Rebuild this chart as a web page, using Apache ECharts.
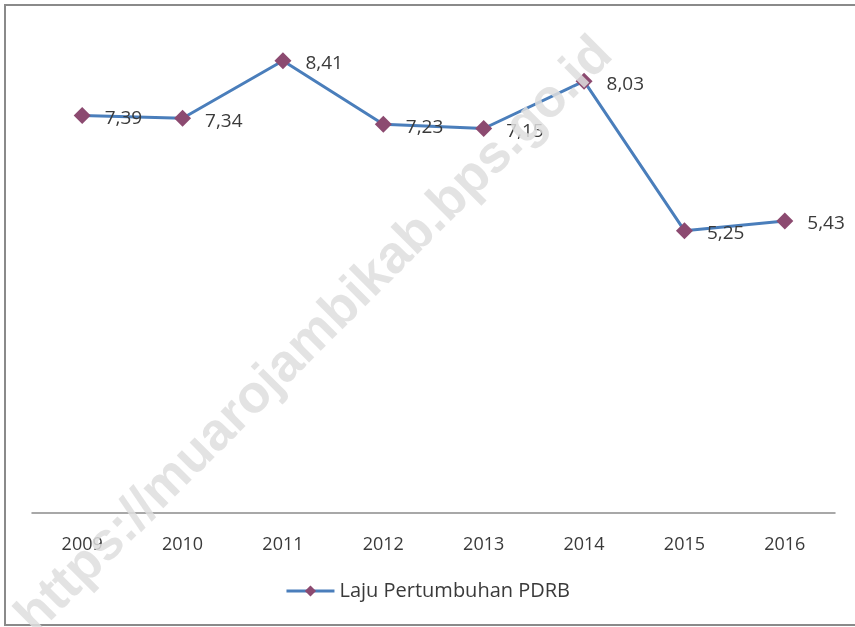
<!DOCTYPE html>
<html>
<head>
<meta charset="utf-8">
<script src="https://cdn.jsdelivr.net/npm/echarts@6/dist/echarts.min.js"></script>
<style>
  html, body { margin: 0; padding: 0; background: #fff; }
  #main { width: 855px; height: 627px; }
</style>
</head>
<body>
<div id="main"></div>
<script>
var years = ['2009', '2010', '2011', '2012', '2013', '2014', '2015', '2016'];
var laju = [7.39, 7.34, 8.41, 7.23, 7.15, 8.03, 5.25, 5.43];
var seriesName = 'Laju Pertumbuhan PDRB';
var watermark = 'https://muarojambikab.bps.go.id';

var chart = echarts.init(document.getElementById('main'));

var option = {
  backgroundColor: '#fff',
  animation: false,
  textStyle: { fontFamily: 'Open Sans, sans-serif' },
  grid: { left: 32, right: 20, top: 29, bottom: 114 },
  xAxis: {
    type: 'category',
    data: years,
    boundaryGap: true,
    axisLine: { lineStyle: { color: '#8c8c8c', width: 1.5 } },
    axisTick: { show: false },
    axisLabel: { color: '#3a3a3a', fontSize: 18, margin: 23 }
  },
  yAxis: {
    type: 'value',
    min: 0,
    max: 9,
    show: false,
    splitLine: { show: false }
  },
  legend: {
    data: [seriesName],
    bottom: 21,
    left: 'center',
    itemWidth: 48,
    itemHeight: 14,
    itemGap: 3,
    lineStyle: { width: 3 },
    textStyle: { color: '#3a3a3a', fontSize: 20 }
  },
  series: [{
    name: seriesName,
    type: 'line',
    data: laju,
    symbol: 'diamond',
    symbolSize: 17,
    itemStyle: { color: '#8c4a70' },
    lineStyle: { color: '#4a7ebb', width: 3 },
    label: {
      show: true,
      position: 'right',
      distance: 14,
      offset: [0, 3],
      color: '#3a3a3a',
      fontSize: 19,
      formatter: function (p) { return p.value.toFixed(2).replace('.', ','); }
    }
  }],
  graphic: [
    {
      type: 'rect',
      shape: { x: 5, y: 5, width: 860, height: 620 },
      style: { fill: 'none', stroke: '#8a8a8a', lineWidth: 2 },
      silent: true,
      z: 100
    },
    {
      type: 'text',
      x: 315,
      y: 336,
      rotation: Math.PI / 4,
      style: {
        text: watermark,
        font: 'bold 53px "Liberation Sans", Arial, sans-serif',
        fill: 'rgba(222,222,222,0.85)',
        align: 'center',
        verticalAlign: 'middle'
      },
      silent: true,
      z: 100
    }
  ]
};

chart.setOption(option);
</script>
</body>
</html>
